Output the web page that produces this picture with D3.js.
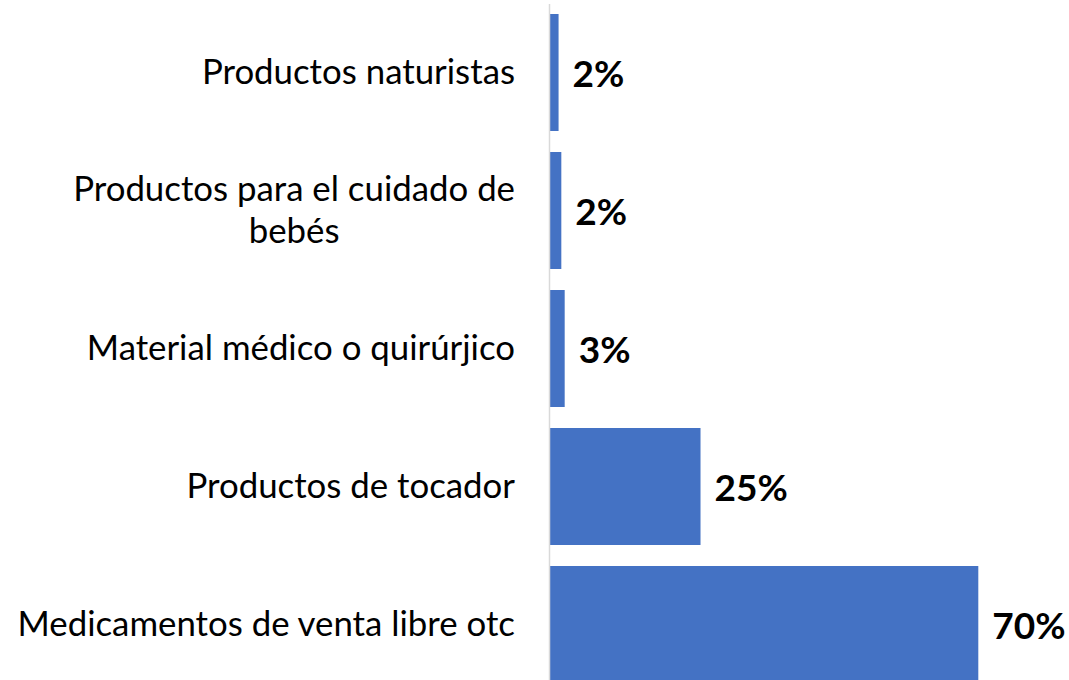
<!DOCTYPE html>
<html>
<head>
<meta charset="utf-8">
<script src="https://cdn.jsdelivr.net/npm/d3@7"></script>
<style>
  html, body { margin: 0; padding: 0; background: #ffffff; }
  svg { display: block; }
</style>
</head>
<body>
<svg id="chart" width="1069" height="680"></svg>
<script>
const categories = [
  ["Productos naturistas"],
  ["Productos para el cuidado de", "bebés"],
  ["Material médico o quirúrjico"],
  ["Productos de tocador"],
  ["Medicamentos de venta libre otc"]
];
const values = [1.4, 1.85, 2.4, 24.6, 70];
const valueLabels = ["2%", "2%", "3%", "25%", "70%"];

const svg = d3.select("#chart");
const keys = categories.map(c => c.join(" "));

const x = d3.scaleLinear().domain([0, 70]).range([550, 978.3]);
const y = d3.scaleBand().domain(keys).range([3.5, 693.5])
  .paddingInner(21 / 138).paddingOuter(21 / 276);

const font = "Lato, 'Open Sans', sans-serif";

// bars
svg.append("g").selectAll("rect").data(values).join("rect")
  .attr("x", x(0))
  .attr("y", (d, i) => y(keys[i]))
  .attr("width", d => x(d) - x(0))
  .attr("height", y.bandwidth())
  .attr("fill", "#4472c4");

// axis line
const axis = svg.append("g").attr("transform", "translate(549,0)")
  .call(d3.axisLeft(y).tickSize(0).tickFormat(""));
axis.select(".domain").attr("stroke", "#d9d9d9").attr("stroke-width", 1.5);

// category labels
const labelRight = 515;
const lineH = 41.5;
categories.forEach((lines, i) => {
  const cy = y(keys[i]) + y.bandwidth() / 2;
  const g = svg.append("g");
  if (lines.length === 1) {
    g.append("text")
      .attr("x", labelRight).attr("y", cy + 11.5)
      .attr("text-anchor", "end")
      .attr("font-family", font).attr("font-size", 34.8)
      .attr("fill", "#000")
      .text(lines[0]);
  } else {
    const texts = lines.map((t, k) => g.append("text")
      .attr("y", cy + 11.5 + (k - (lines.length - 1) / 2) * lineH)
      .attr("text-anchor", "middle")
      .attr("font-family", font).attr("font-size", 34.8)
      .attr("fill", "#000")
      .text(t));
    const maxW = d3.max(texts, t => t.node().getComputedTextLength());
    texts.forEach(t => t.attr("x", labelRight - maxW / 2));
  }
});

// value labels
svg.append("g").selectAll("text").data(values).join("text")
  .attr("x", d => x(d) + 14)
  .attr("y", (d, i) => y(keys[i]) + y.bandwidth() / 2 + 14)
  .attr("font-family", font).attr("font-size", 37).attr("font-weight", "bold")
  .attr("fill", "#000")
  .text((d, i) => valueLabels[i]);
</script>
</body>
</html>
